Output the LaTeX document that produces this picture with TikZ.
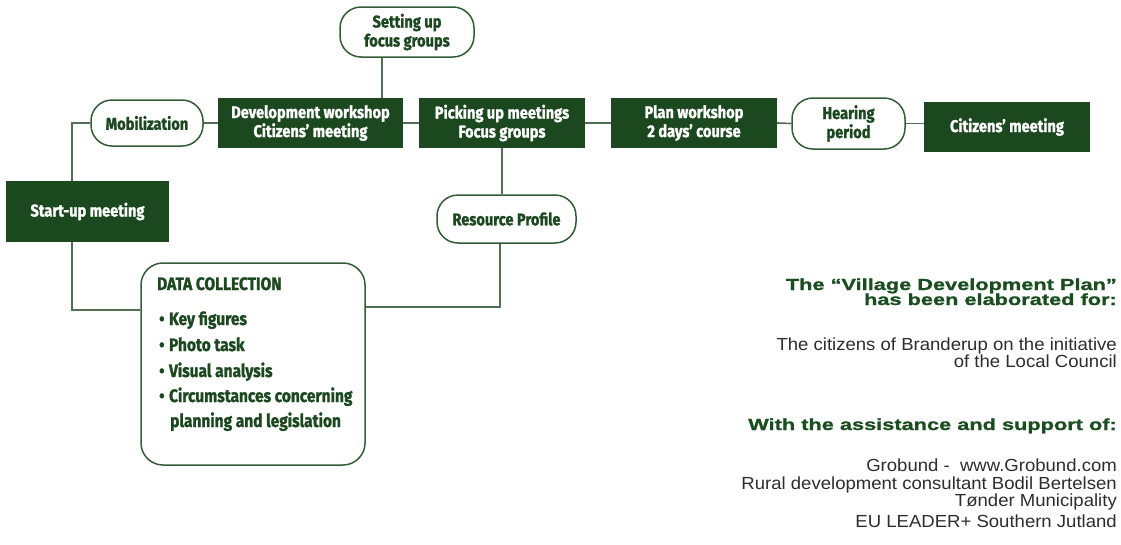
\documentclass[tikz,border=0pt]{standalone}
\usepackage{fontspec}
\setmainfont{Liberation Sans}
\newfontfamily\condfont[FakeStretch=0.86, BoldFeatures={FakeBold=1.3}]{Fira Sans}
\newfontfamily\widefont[FakeStretch=1.36, BoldFeatures={FakeBold=1.2}]{Liberation Sans}
\newfontfamily\bodyfont[FakeStretch=1.06]{Liberation Sans}
\definecolor{dkgreen}{RGB}{28,72,32}
\definecolor{rimgreen}{RGB}{52,92,54}
\definecolor{linkgreen}{RGB}{82,112,84}
\definecolor{headgreen}{RGB}{26,78,32}
\definecolor{bodygray}{RGB}{45,45,45}
\tikzset{
  darkbox/.style={rectangle, fill=dkgreen, text=white, inner sep=0pt,
    font=\condfont\bfseries\fontsize{17}{19}\selectfont, align=center},
  pill/.style={rectangle, draw=rimgreen, line width=1.5pt, fill=white,
    rounded corners=21pt, text=dkgreen, inner sep=0pt,
    font=\condfont\bfseries\fontsize{17}{19}\selectfont, align=center},
  listbox/.style={rectangle, draw=rimgreen, line width=1.5pt, fill=white,
    rounded corners=22pt, inner sep=0pt},
  listtext/.style={anchor=base west, inner sep=0pt, text=dkgreen,
    font=\condfont\bfseries\fontsize{18}{20}\selectfont},
  link/.style={draw=linkgreen, line width=1.6pt},
  headtext/.style={anchor=base east, inner sep=0pt, text=headgreen,
    font=\widefont\bfseries\fontsize{16}{16}\selectfont},
  bodytext/.style={anchor=base east, inner sep=0pt, text=bodygray,
    font=\bodyfont\fontsize{17.5}{18}\selectfont},
}
\begin{document}
\begin{tikzpicture}[x=1pt,y=-1pt]
\useasboundingbox (0,0) rectangle (1121,544);

% process steps
\node[pill, minimum width=134pt, minimum height=50pt] (setting) at (407,32) {Setting up\\focus groups};
\node[pill, minimum width=112pt, minimum height=46pt] (mob) at (147,123) {Mobilization};
\node[darkbox, minimum width=185pt, minimum height=50pt] (dev) at (310.5,123) {Development workshop\\Citizens’ meeting};
\node[darkbox, minimum width=166pt, minimum height=50pt] (pick) at (502,123) {Picking up meetings\\Focus groups};
\node[darkbox, minimum width=166pt, minimum height=50pt] (plan) at (694,123) {Plan workshop\\2 days’ course};
\node[pill, minimum width=113pt, minimum height=51pt] (hear) at (848.5,123.5) {Hearing\\period};
\node[darkbox, minimum width=166pt, minimum height=50pt] (cit) at (1007,127) {Citizens’ meeting};
\node[darkbox, minimum width=163pt, minimum height=61pt] (start) at (87.5,211.5) {Start-up meeting};
\node[pill, minimum width=139pt, minimum height=48pt] (res) at (506.5,219) {Resource Profile};
\node[listbox, minimum width=224pt, minimum height=202pt] (data) at (253,364) {};

% contents of the data collection box
\node[listtext] (dtitle) at (157,290) {DATA COLLECTION};
\node[listtext] (d1) at (159,325) {•\hspace{4.5pt}Key figures};
\node[listtext] (d2) at (159,351) {•\hspace{4.5pt}Photo task};
\node[listtext] (d3) at (159,377) {•\hspace{4.5pt}Visual analysis};
\node[listtext] (d4) at (159,402) {•\hspace{4.5pt}Circumstances concerning};
\node[listtext] (d5) at (170,427) {planning and legislation};

% connectors
\draw[link] ([xshift=-15.5pt]start.north) |- (mob.west);
\draw[link] (mob.east) -- (dev.west);
\draw[link] (dev.east) -- (pick.west);
\draw[link] (pick.east) -- (plan.west);
\draw[link] (plan.east) -- (hear.west);
\draw[link] (hear.east) -- (hear.east -| cit.west);
\draw[link] ([xshift=-25pt]setting.south) coordinate (s1) -- (s1 |- dev.north);
\draw[link] (pick.south) -- (pick.south |- res.north);
\draw[link] ([xshift=-6.5pt]res.south) |- ([yshift=57pt]data.east);
\draw[link] ([xshift=-15.5pt]start.south) |- ([yshift=54pt]data.west);

% credits
\node[headtext] (h1) at (1117,290) {The “Village Development Plan”};
\node[headtext] (h2) at (1117,305) {has been elaborated for:};
\node[bodytext] (b1) at (1117,350) {The citizens of Branderup on the initiative};
\node[bodytext] (b2) at (1117,367) {of the Local Council};
\node[headtext] (h3) at (1117,430) {With the assistance and support of:};
\node[bodytext] (b3) at (1117,471) {Grobund -\ \ www.Grobund.com};
\node[bodytext] (b4) at (1117,489) {Rural development consultant Bodil Bertelsen};
\node[bodytext] (b5) at (1117,506) {Tønder Municipality};
\node[bodytext] (b6) at (1117,527) {EU LEADER+ Southern Jutland};
\end{tikzpicture}
\end{document}
